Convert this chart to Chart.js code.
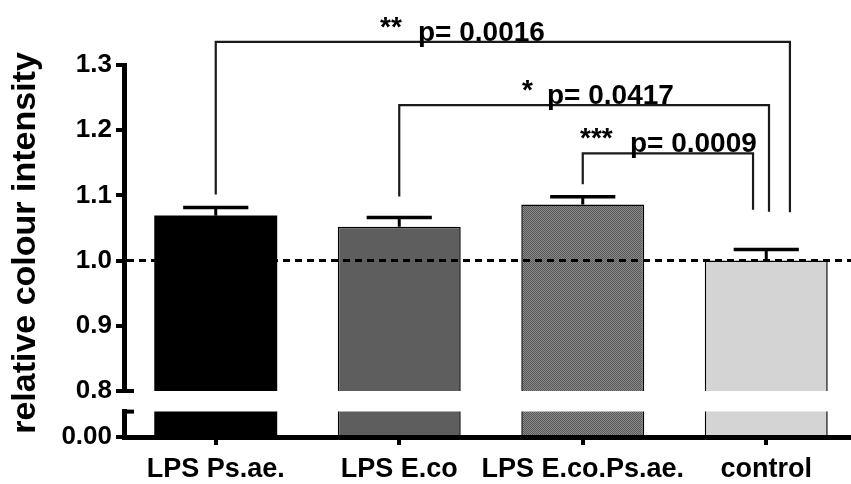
<!DOCTYPE html>
<html><head><meta charset="utf-8">
<script src="https://cdn.jsdelivr.net/npm/chart.js@4/dist/chart.umd.min.js"></script>
<style>
html,body{margin:0;padding:0;background:#fff;overflow:hidden;}
#wrap{position:relative;width:851px;height:484px;overflow:hidden;background:#fff;}
canvas{position:absolute;left:0;}
#top{top:0;width:860px;height:484px;}
#bot{top:392px;width:860px;height:92px;}
</style></head><body>
<div id="wrap"><canvas id="top" width="860" height="484"></canvas><canvas id="bot" width="860" height="92"></canvas></div>
<script>
// ---- data ----
const categories = ['LPS Ps.ae.', 'LPS E.co', 'LPS E.co.Ps.ae.', 'control'];
const meanValues = [1.069, 1.052, 1.086, 1.000];
const semValues = [0.0125, 0.014, 0.012, 0.017];
const upperTicks = [0.8, 0.9, 1.0, 1.1, 1.2, 1.3];
const lowerTicks = [0.00];
const referenceLine = 1.0;
const comparePairs = [[0, 3], [1, 3], [2, 3]];
const pTexts = ['p= 0.0016', 'p= 0.0417', 'p= 0.0009'];
const starTexts = ['**', '*', '***'];
const yTitle = 'relative colour intensity';

// ---- styling ----
const FONT = '"Liberation Sans", Arial, Helvetica, sans-serif';
function makePattern() {
  const c = document.createElement('canvas');
  c.width = 2; c.height = 2;
  const g = c.getContext('2d');
  g.fillStyle = '#8a8a8a'; g.fillRect(0, 0, 2, 2);
  g.fillStyle = '#585858'; g.fillRect(0, 0, 1, 1); g.fillRect(1, 1, 1, 1);
  return g.createPattern(c, 'repeat');
}
const barColors = ['#000000', '#5e5e5e', makePattern(), '#d4d4d4'];
const barBorders = [0, 1.5, 1.5, 1.5];

// bracket geometry (annotation layout, in axis units)
const bracketLayout = [
  {level: 1.3354, leftEnd: 1.1015, rightOffset: 0.129, rightEnd: 1.074, starX: 0.895, pX: 1.102},
  {level: 1.2385, leftEnd: 1.0985, rightOffset: 0.015, rightEnd: 1.075, starX: 1.669, pX: 1.805},
  {level: 1.1646, leftEnd: 1.117, rightOffset: -0.072, rightEnd: 1.078, starX: 1.985, pX: 2.257}
];

const axisGrid = () => ({drawOnChartArea: false, drawTicks: true, tickLength: 8, lineWidth: 4, tickWidth: 4, color: '#000'});
const axisBorder = () => ({display: true, color: '#000', width: 5});

const upperPlugin = {
  id: 'upperDecor',
  afterDatasetsDraw(chart) {
    const ctx = chart.ctx, xs = chart.scales.x, ys = chart.scales.y, area = chart.chartArea;
    ctx.save();
    // reference dashed line
    const yr = ys.getPixelForValue(referenceLine);
    ctx.strokeStyle = '#000'; ctx.lineWidth = 3; ctx.setLineDash([7, 5]);
    ctx.beginPath(); ctx.moveTo(area.left + 3, yr); ctx.lineTo(area.right, yr); ctx.stroke();
    ctx.setLineDash([]);
    // error bars
    const meta = chart.getDatasetMeta(0);
    meta.data.forEach((el, i) => {
      const yTop = el.y, yErr = ys.getPixelForValue(meanValues[i] + semValues[i]);
      const half = el.width * 0.265;
      ctx.lineWidth = 3; ctx.strokeStyle = '#000';
      ctx.beginPath(); ctx.moveTo(el.x, yTop); ctx.lineTo(el.x, yErr); ctx.stroke();
      ctx.lineWidth = 3.5;
      ctx.beginPath(); ctx.moveTo(el.x - half, yErr); ctx.lineTo(el.x + half, yErr); ctx.stroke();
    });
    // axis break nub
    const yb = ys.getPixelForValue(upperTicks[0]);
    ctx.lineWidth = 4;
    ctx.beginPath(); ctx.moveTo(area.left - 1, yb); ctx.lineTo(area.left + 10, yb); ctx.stroke();
    // brackets
    ctx.strokeStyle = '#1a1a1a'; ctx.lineWidth = 2.2; ctx.fillStyle = '#000';
    comparePairs.forEach((pair, k) => {
      const b = bracketLayout[k];
      const xl = xs.getPixelForValue(pair[0]);
      const xr = xs.getPixelForValue(pair[1] + b.rightOffset);
      const yl = ys.getPixelForValue(b.level);
      ctx.beginPath();
      ctx.moveTo(xl, ys.getPixelForValue(b.leftEnd));
      ctx.lineTo(xl, yl); ctx.lineTo(xr, yl);
      ctx.lineTo(xr, ys.getPixelForValue(b.rightEnd));
      ctx.stroke();
      ctx.font = 'bold 28px ' + FONT; ctx.textAlign = 'left'; ctx.textBaseline = 'alphabetic';
      ctx.fillText(pTexts[k], xs.getPixelForValue(b.pX), yl - 1);
      ctx.fillText(starTexts[k], xs.getPixelForValue(b.starX), yl - 6);
    });
    // y title
    ctx.save();
    ctx.translate(26, 243); ctx.rotate(-Math.PI / 2);
    ctx.font = 'bold 34px ' + FONT; ctx.textAlign = 'center'; ctx.textBaseline = 'middle';
    ctx.fillText(yTitle, 0, 0);
    ctx.restore();
    ctx.restore();
  }
};

const lowerPlugin = {
  id: 'lowerDecor',
  afterDatasetsDraw(chart) {
    const ctx = chart.ctx, area = chart.chartArea;
    ctx.save(); ctx.strokeStyle = '#000'; ctx.lineWidth = 4;
    ctx.beginPath(); ctx.moveTo(area.left - 1, area.top); ctx.lineTo(area.left + 10, area.top); ctx.stroke();
    ctx.restore();
  }
};

const dataset = () => ({
  data: meanValues,
  backgroundColor: barColors,
  borderColor: '#000',
  borderWidth: barBorders,
  borderSkipped: 'start',
  barPercentage: 0.67,
  categoryPercentage: 1.0,
  clip: 0
});

new Chart(document.getElementById('top'), {
  type: 'bar',
  data: {labels: categories, datasets: [dataset()]},
  options: {
    responsive: false, animation: false, devicePixelRatio: 1,
    layout: {padding: {top: 65, bottom: 93, left: 0, right: 2}},
    plugins: {legend: {display: false}, tooltip: {enabled: false}},
    scales: {
      x: {display: false, offset: true},
      y: {
        min: 0.8, max: 1.3,
        afterBuildTicks: s => { s.ticks = upperTicks.map(v => ({value: v})); },
        afterFit: s => { s.width = 124; },
        ticks: {color: '#000', padding: 4, font: {family: FONT, size: 26, weight: 'bold'},
          callback: v => Number(v).toFixed(1)},
        grid: axisGrid(), border: axisBorder()
      }
    }
  },
  plugins: [upperPlugin]
});

new Chart(document.getElementById('bot'), {
  type: 'bar',
  data: {labels: categories, datasets: [dataset()]},
  options: {
    responsive: false, animation: false, devicePixelRatio: 1,
    layout: {padding: {top: 16, bottom: 0, left: 0, right: 2}},
    plugins: {legend: {display: false}, tooltip: {enabled: false}},
    scales: {
      x: {
        offset: true,
        afterFit: s => { s.height = 47; },
        ticks: {color: '#000', padding: 8, maxRotation: 0, autoSkip: false,
          font: {family: FONT, size: 27, weight: 'bold'}},
        grid: Object.assign(axisGrid(), {offset: false}), border: axisBorder()
      },
      y: {
        min: 0, max: 0.05,
        afterBuildTicks: s => { s.ticks = lowerTicks.map(v => ({value: v})).concat([{value: 0.05}]); },
        afterFit: s => { s.width = 124; },
        ticks: {color: '#000', padding: 4, font: {family: FONT, size: 26, weight: 'bold'},
          callback: v => (lowerTicks.includes(v) ? Number(v).toFixed(2) : '')},
        grid: axisGrid(), border: axisBorder()
      }
    }
  },
  plugins: [lowerPlugin]
});
</script>
</body></html>
